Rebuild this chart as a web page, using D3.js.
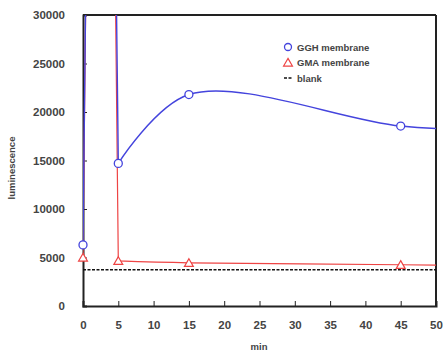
<!DOCTYPE html>
<html>
<head>
<meta charset="utf-8">
<script src="https://cdn.jsdelivr.net/npm/d3@7"></script>
<style>
  body { margin: 0; background: #fff; }
  svg text { font-family: "Liberation Sans", Arial, sans-serif; fill: #444; font-weight: bold; }
</style>
</head>
<body>
<svg id="chart" width="443" height="351"></svg>
<script>
// time points (min); 2.5 and 60 are the off-scale points the curves run through
const minutes = [0, 2.5, 5, 15, 45, 60];
const gghValues = [6300, 120000, 14700, 21800, 18550, 18100];
const gmaValues = [5000, 120000, 4650, 4450, 4250, 4100];
const markerMinutes = [0, 5, 15, 45];
const blankLevel = 3750;
const xTicks = [0, 5, 10, 15, 20, 25, 30, 35, 40, 45, 50];
const yTicks = [0, 5000, 10000, 15000, 20000, 25000, 30000];

const svg = d3.select('#chart');
const margin = { top: 15, right: 7, bottom: 45, left: 83 };
const width = 443 - margin.left - margin.right;
const height = 351 - margin.top - margin.bottom;

const x = d3.scaleLinear().domain([0, 50]).range([0, width]);
const y = d3.scaleLinear().domain([0, 30000]).range([height, 0]);

svg.append('defs').append('clipPath').attr('id', 'plot-clip')
  .append('rect').attr('width', width).attr('height', height);

const g = svg.append('g').attr('transform', `translate(${margin.left},${margin.top})`);

// axes with inward ticks
const xAxis = g.append('g').attr('transform', `translate(0,${height})`)
  .call(d3.axisBottom(x).tickValues(xTicks).tickSize(-5).tickPadding(15));
const yAxis = g.append('g')
  .call(d3.axisLeft(y).tickValues(yTicks).tickFormat(d3.format('d')).tickSize(-4).tickPadding(18));
[xAxis, yAxis].forEach((a) => {
  a.selectAll('text').style('font-size', '11.5px').attr('fill', '#555');
  a.selectAll('line').attr('stroke', '#222');
  a.select('.domain').attr('stroke', '#222').attr('stroke-width', 2);
});

// top and right frame
g.append('line').attr('x1', 0).attr('x2', width).attr('y1', 0).attr('y2', 0)
  .attr('stroke', '#222').attr('stroke-width', 2);
g.append('line').attr('x1', width).attr('x2', width).attr('y1', 0).attr('y2', height)
  .attr('stroke', '#222').attr('stroke-width', 2);

const plot = g.append('g').attr('clip-path', 'url(#plot-clip)');

// blank
plot.append('line')
  .attr('x1', 0).attr('x2', width)
  .attr('y1', y(blankLevel)).attr('y2', y(blankLevel))
  .attr('stroke', '#111').attr('stroke-width', 1.5).attr('stroke-dasharray', '3,1.5');

// spike (0 -> 5 min) monotone, rest smoothed
const pts = (vals) => vals.map((v, i) => [x(minutes[i]), y(v)]);
const spikeLine = d3.line().curve(d3.curveMonotoneX);
const tailLine = d3.line().curve(d3.curveCatmullRom.alpha(0.5));
const drawSeries = (vals, color, w) => {
  const p = pts(vals);
  plot.append('path').attr('d', spikeLine(p.slice(0, 3)) + tailLine(p.slice(2)).replace(/^M/, 'L'))
    .attr('fill', 'none').attr('stroke', color).attr('stroke-width', w);
};
drawSeries(gmaValues, '#ee4444', 1.2);
drawSeries(gghValues, '#4444dd', 1.4);

const tri = d3.symbol().type(d3.symbolTriangle).size(34);
markerMinutes.forEach((m) => {
  const i = minutes.indexOf(m);
  g.append('path').attr('d', tri())
    .attr('transform', `translate(${x(m)},${y(gmaValues[i]) + 1})`)
    .attr('fill', '#fff').attr('stroke', '#ee4444').attr('stroke-width', 1.2);
  g.append('circle').attr('cx', x(m)).attr('cy', y(gghValues[i])).attr('r', 4)
    .attr('fill', '#fff').attr('stroke', '#4444dd').attr('stroke-width', 1.3);
});

// legend
const legend = g.append('g').attr('transform', `translate(${288 - margin.left},${47 - margin.top})`);
const items = [
  { label: 'GGH membrane', kind: 'circle' },
  { label: 'GMA membrane', kind: 'tri' },
  { label: 'blank', kind: 'dash' },
];
items.forEach((it, i) => {
  const row = legend.append('g').attr('transform', `translate(0,${i * 15.5})`);
  if (it.kind === 'circle') {
    row.append('circle').attr('r', 3.5).attr('fill', '#fff')
      .attr('stroke', '#4444dd').attr('stroke-width', 1.3);
  } else if (it.kind === 'tri') {
    row.append('path').attr('d', tri()).attr('transform', 'translate(0,1)')
      .attr('fill', '#fff').attr('stroke', '#ee4444').attr('stroke-width', 1.2);
  } else {
    row.append('line').attr('x1', -4).attr('x2', 4)
      .attr('stroke', '#111').attr('stroke-width', 1.5).attr('stroke-dasharray', '3,1.5');
  }
  row.append('text').attr('x', 9).attr('y', 3.5)
    .style('font-size', '9.5px').text(it.label);
});

// axis titles
svg.append('text')
  .attr('transform', 'translate(15,168) rotate(-90)')
  .attr('text-anchor', 'middle').style('font-size', '9.5px').text('luminescence');
svg.append('text')
  .attr('x', 259).attr('y', 350)
  .attr('text-anchor', 'middle').style('font-size', '9.5px').text('min');
</script>
</body>
</html>
